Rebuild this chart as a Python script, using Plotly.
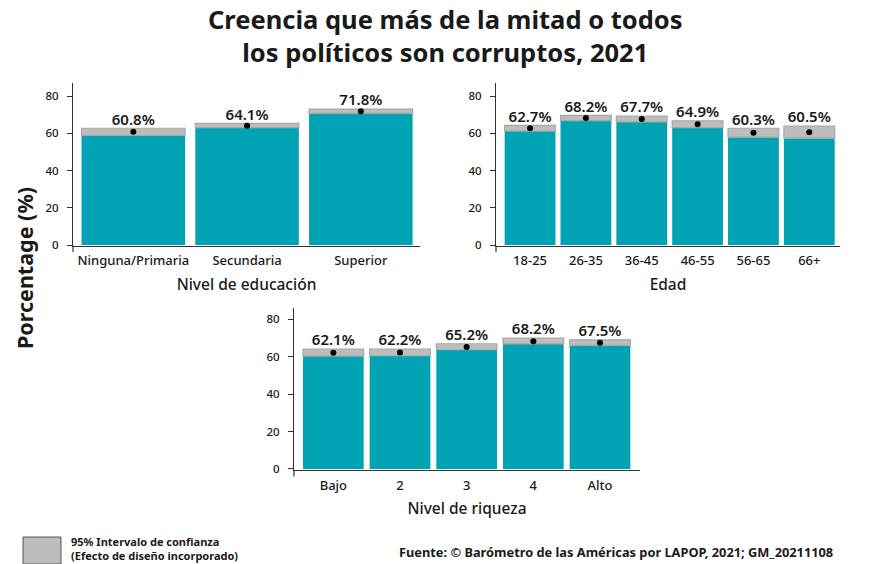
import plotly.graph_objects as go

# ---- data ----
edu_cats = ["Ninguna/Primaria", "Secundaria", "Superior"]
edu_vals = [60.8, 64.1, 71.8]
edu_lo = [58.9, 63.0, 70.7]
edu_hi = [62.7, 65.3, 73.0]

age_cats = ["18-25", "26-35", "36-45", "46-55", "56-65", "66+"]
age_vals = [62.7, 68.2, 67.7, 64.9, 60.3, 60.5]
age_lo = [61.2, 66.8, 66.1, 63.0, 57.9, 57.4]
age_hi = [64.3, 69.6, 69.2, 66.7, 62.7, 63.8]

wealth_cats = ["Bajo", "2", "3", "4", "Alto"]
wealth_vals = [62.1, 62.2, 65.2, 68.2, 67.5]
wealth_lo = [60.3, 60.5, 63.7, 66.8, 66.0]
wealth_hi = [64.0, 64.0, 66.9, 69.9, 69.0]

y_ticks = [0, 20, 40, 60, 80]

TEAL = "#00A3B3"
GRAY = "#BDBDBD"
GRAY_LINE = "#A8A8A8"
FONT = "Noto Sans"
W, H = 870, 564

fig = go.Figure()

panels = [
    (edu_cats, edu_vals, edu_lo, edu_hi, "x", "y"),
    (age_cats, age_vals, age_lo, age_hi, "x2", "y2"),
    (wealth_cats, wealth_vals, wealth_lo, wealth_hi, "x3", "y3"),
]
for cats, vals, lo, hi, xa, ya in panels:
    fig.add_trace(go.Bar(x=cats, y=lo, marker=dict(color=TEAL, line=dict(width=0)),
                         xaxis=xa, yaxis=ya, showlegend=False, hoverinfo="skip"))
    fig.add_trace(go.Bar(x=cats, y=[h - l for h, l in zip(hi, lo)], base=lo,
                         marker=dict(color=GRAY, line=dict(color=GRAY_LINE, width=1.2)),
                         xaxis=xa, yaxis=ya, showlegend=False, hoverinfo="skip"))
    fig.add_trace(go.Scatter(x=cats, y=vals, mode="markers",
                             marker=dict(color="black", size=6),
                             xaxis=xa, yaxis=ya, showlegend=False, hoverinfo="skip"))
    fig.add_trace(go.Scatter(x=cats, y=hi, mode="text",
                             text=[f"{v:.1f}%" for v in vals],
                             textposition="top center",
                             textfont=dict(family=FONT, size=15, color="#1a1a1a", weight=600),
                             xaxis=xa, yaxis=ya, showlegend=False, hoverinfo="skip"))

def px_x(a, b):
    return [a / W, b / W]

def px_y(top, bottom):
    return [(H - bottom) / H, (H - top) / H]

xcommon = dict(type="category", showline=True, linecolor="#333", linewidth=1.2,
               ticks="", showgrid=False, zeroline=False, automargin=False,
               ticklabelstandoff=3,
               tickfont=dict(family=FONT, size=13, color="#1a1a1a", weight=500),
               title_font=dict(family=FONT, size=15.5, color="#1a1a1a", weight=500),
               title_standoff=10)
ycommon = dict(showline=True, linecolor="#333", linewidth=1.2, ticks="outside",
               ticklen=5, tickcolor="#333", tickvals=y_ticks, showgrid=False,
               zeroline=False, automargin=False, ticklabelstandoff=6,
               tickfont=dict(family=FONT, size=11.5, color="#1a1a1a", weight=500))

fig.update_layout(
    xaxis=dict(xcommon, domain=px_x(73, 420), range=[-0.53, 2.52],
               anchor="y", title_text="Nivel de educación"),
    yaxis=dict(ycommon, domain=px_y(83, 245.6), range=[-0.3, 87], anchor="x"),
    xaxis2=dict(xcommon, domain=px_x(496, 840), range=[-0.61, 5.55],
                anchor="y2", title_text="Edad"),
    yaxis2=dict(ycommon, domain=px_y(83, 245.6), range=[-0.3, 87], anchor="x2"),
    xaxis3=dict(xcommon, domain=px_x(294, 640), range=[-0.59, 4.6],
                anchor="y3", title_text="Nivel de riqueza"),
    yaxis3=dict(ycommon, domain=px_y(308, 469.9), range=[-0.5, 86], anchor="x3"),
    barmode="overlay", bargap=0.09,
    width=W, height=H, margin=dict(l=0, r=0, t=0, b=0, autoexpand=False),
    plot_bgcolor="white", paper_bgcolor="white",
    font=dict(family=FONT, color="#1a1a1a"),
)

# small extension of y axis lines below x axis
for xr, yr in [("x", "y"), ("x2", "y2"), ("x3", "y3")]:
    fig.add_shape(type="line", xref=f"{xr} domain", yref=f"{yr} domain",
                  x0=0, x1=0, y0=-0.04, y1=0, line=dict(color="#333", width=1.2))

# title
fig.add_annotation(text="<b>Creencia que más de la mitad o todos<br>los políticos son corruptos, 2021</b>",
                   xref="paper", yref="paper", x=446 / W, y=1 - 35.5 / H,
                   xanchor="center", yanchor="middle",
                   showarrow=False, font=dict(family=FONT, size=25.5, color="#1a1a1a"))
# y title
fig.add_annotation(text="<b>Porcentage (%)</b>", textangle=-90,
                   xref="paper", yref="paper", x=24 / W, y=1 - 268 / H,
                   xanchor="center", yanchor="middle", showarrow=False,
                   font=dict(family=FONT, size=21.5, color="#1a1a1a"))
# legend box
fig.add_shape(type="rect", xref="paper", yref="paper", x0=23 / W, x1=61 / W,
              y0=0, y1=1 - 537 / H, fillcolor=GRAY, line=dict(color="#555", width=1))
fig.add_annotation(text="<b>95% Intervalo de confianza<br>(Efecto de diseño incorporado)</b>",
                   xref="paper", yref="paper", x=69 / W, y=1 - 548.5 / H,
                   xanchor="left", yanchor="middle", align="left", showarrow=False,
                   font=dict(family=FONT, size=11, color="#1a1a1a"))
fig.add_annotation(text="<b>Fuente: © Barómetro de las Américas por LAPOP, 2021; GM_20211108</b>",
                   xref="paper", yref="paper", x=397 / W, y=1 - 552 / H,
                   xanchor="left", yanchor="middle", showarrow=False,
                   font=dict(family=FONT, size=12.8, color="#1a1a1a"))

fig.write_html("out.html", config={"displayModeBar": False},
               post_script="document.body.style.margin='0';document.body.style.padding='0';"
                           "document.documentElement.style.overflow='hidden';")
